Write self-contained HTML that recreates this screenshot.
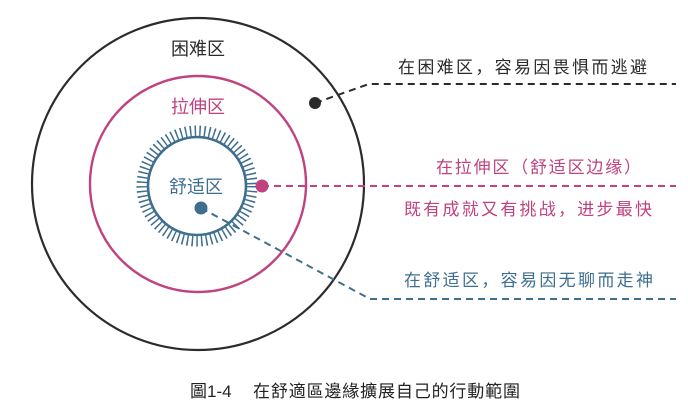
<!DOCTYPE html>
<html><head><meta charset="utf-8"><style>
html,body{margin:0;padding:0;background:#fff;}
svg{display:block;font-family:"Liberation Sans","Noto Sans CJK SC",sans-serif;}
</style></head><body>
<svg width="688" height="404" viewBox="0 0 688 404" xmlns="http://www.w3.org/2000/svg">
<circle cx="198" cy="184" r="166" fill="none" stroke="#2b2b2b" stroke-width="2.2"/>
<circle cx="198" cy="184" r="108" fill="none" stroke="#c0427f" stroke-width="2.4"/>
<circle cx="197" cy="186" r="55" fill="none" stroke="#3f6f8f" stroke-width="11" stroke-dasharray="1.5 3.25"/>
<circle cx="197" cy="186" r="49" fill="none" stroke="#3f6f8f" stroke-width="2.6"/>
<circle cx="197" cy="186" r="47.5" fill="#fff"/>

<text x="198" y="55" font-size="18" fill="#2b2b2b" text-anchor="middle">困难区</text>
<text x="198" y="113" font-size="18" fill="#c0427f" text-anchor="middle">拉伸区</text>
<text x="196" y="193" font-size="18" fill="#3f6f8f" text-anchor="middle">舒适区</text>

<polyline points="315,103 369,84 676,84" fill="none" stroke="#2b2b2b" stroke-width="2" stroke-dasharray="7 5"/>
<circle cx="315" cy="103" r="6" fill="#2b2b2b"/>
<line x1="262" y1="186" x2="676" y2="186" stroke="#c0427f" stroke-width="2" stroke-dasharray="7 5"/>
<circle cx="262" cy="186" r="6.5" fill="#c0427f"/>
<polyline points="201,208 370,299 676,299" fill="none" stroke="#3f6f8f" stroke-width="2" stroke-dasharray="7 5"/>
<circle cx="201" cy="208" r="6.5" fill="#3f6f8f"/>

<text x="398" y="73" font-size="17" fill="#2b2b2b" textLength="249" lengthAdjust="spacing">在困难区，容易因畏惧而逃避</text>
<text x="436" y="173" font-size="17" fill="#c0427f" textLength="205" lengthAdjust="spacing">在拉伸区（舒适区边缘）</text>
<text x="404" y="215" font-size="17" fill="#c0427f" textLength="248" lengthAdjust="spacing">既有成就又有挑战，进步最快</text>
<text x="404" y="286" font-size="17" fill="#3f6f8f" textLength="249" lengthAdjust="spacing">在舒适区，容易因无聊而走神</text>

<text x="190" y="397" font-size="17" fill="#222">圖1-4</text>
<text x="253" y="397" font-size="17" fill="#222" textLength="267" lengthAdjust="spacing">在舒適區邊緣擴展自己的行動範圍</text>
</svg>
</body></html>
